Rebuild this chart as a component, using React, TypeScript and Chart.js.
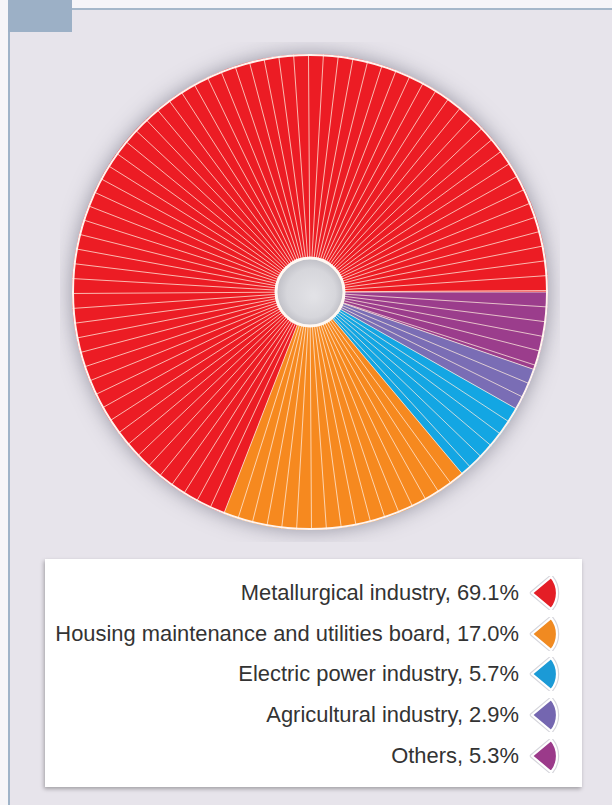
import React, { useEffect, useRef } from "react";
import { Chart, registerables } from "chart.js";

Chart.register(...registerables);

// Legend order (top to bottom)
const categories = [
  "Metallurgical industry",
  "Housing maintenance and utilities board",
  "Electric power industry",
  "Agricultural industry",
  "Others",
];
const shares = [69.1, 17.0, 5.7, 2.9, 5.3];
const sliceColors = ["#ec1c24", "#f6891f", "#13a6e3", "#7a6db5", "#9b3d8c"];
const markerColors = ["#e41e26", "#f08a21", "#1b9ad6", "#7466b0", "#9b3a8a"];

// one thin segment per percentage point
const SEGMENT_SHARE = 1;

const decorPlugin = {
  id: "decor",
  beforeDatasetsDraw(chart: any) {
    const meta = chart.getDatasetMeta(0);
    if (!meta.data.length) return;
    const { x, y, outerRadius } = meta.data[0].getProps(["x", "y", "outerRadius"], true);
    const ctx = chart.ctx;
    ctx.save();
    ctx.shadowColor = "rgba(70,70,90,0.5)";
    ctx.shadowBlur = 20;
    ctx.fillStyle = "#e6e3ea";
    ctx.beginPath();
    ctx.arc(x, y, outerRadius, 0, Math.PI * 2);
    ctx.fill();
    ctx.restore();
  },
  afterDatasetsDraw(chart: any) {
    const meta = chart.getDatasetMeta(0);
    if (!meta.data.length) return;
    const ctx = chart.ctx;
    const total = shares.reduce((s, v) => s + v, 0);
    const step = (Math.PI * 2 * SEGMENT_SHARE) / total;
    let cx = 0, cy = 0, rIn = 0, rOut = 0;
    ctx.save();
    ctx.lineWidth = 1;
    meta.data.forEach((arc: any) => {
      const { x, y, startAngle, endAngle, innerRadius, outerRadius } = arc.getProps(
        ["x", "y", "startAngle", "endAngle", "innerRadius", "outerRadius"],
        true
      );
      cx = x; cy = y; rIn = innerRadius; rOut = outerRadius;
      ctx.strokeStyle = "rgba(255,236,222,0.75)";
      for (let t = startAngle; t < endAngle - 1e-6; t += step) {
        ctx.beginPath();
        ctx.moveTo(x + Math.cos(t) * innerRadius, y + Math.sin(t) * innerRadius);
        ctx.lineTo(x + Math.cos(t) * outerRadius, y + Math.sin(t) * outerRadius);
        ctx.stroke();
      }
    });
    // outer rim
    ctx.strokeStyle = "#fff4ee";
    ctx.lineWidth = 2;
    ctx.beginPath();
    ctx.arc(cx, cy, rOut - 1, 0, Math.PI * 2);
    ctx.stroke();
    // hole
    const g = ctx.createRadialGradient(cx + 4, cy + 4, 2, cx, cy, rIn);
    g.addColorStop(0, "#e2e2e6");
    g.addColorStop(0.7, "#d6d6db");
    g.addColorStop(1, "#bfbfc6");
    ctx.fillStyle = g;
    ctx.beginPath();
    ctx.arc(cx, cy, rIn, 0, Math.PI * 2);
    ctx.fill();
    ctx.strokeStyle = "#fff8f2";
    ctx.lineWidth = 3;
    ctx.beginPath();
    ctx.arc(cx, cy, rIn, 0, Math.PI * 2);
    ctx.stroke();
    ctx.restore();
  },
};

function Marker({ color }: { color: string }) {
  // wedge pointing left
  const r = 25;
  const a = (40 * Math.PI) / 180;
  const x1 = 3 + r * Math.cos(a);
  const y1 = 17 - r * Math.sin(a);
  const y2 = 17 + r * Math.sin(a);
  const d = `M3,17 L${x1.toFixed(2)},${y1.toFixed(2)} A${r},${r} 0 0 1 ${x1.toFixed(2)},${y2.toFixed(2)} Z`;
  return (
    <svg width="31" height="34" viewBox="0 0 31 34" style={{ display: "block" }}>
      <path d={d} fill="none" stroke="#d6d6dc" strokeWidth="4.5" strokeLinejoin="round" />
      <path d={d} fill={color} stroke="#ffffff" strokeWidth="2.2" strokeLinejoin="round" />
    </svg>
  );
}

export default function App() {
  const canvasRef = useRef<HTMLCanvasElement | null>(null);

  useEffect(() => {
    document.body.style.margin = "0";
    const ordered = categories.map((_, i) => i).reverse();
    const chart = new Chart(canvasRef.current as HTMLCanvasElement, {
      type: "doughnut",
      data: {
        labels: ordered.map((i) => categories[i]),
        datasets: [
          {
            data: ordered.map((i) => shares[i]),
            backgroundColor: ordered.map((i) => sliceColors[i]),
            borderWidth: 0,
          },
        ],
      },
      options: {
        animation: false,
        responsive: false,
        rotation: 90,
        cutout: 34,
        layout: { padding: 12 },
        plugins: { legend: { display: false }, tooltip: { enabled: false } },
      },
      plugins: [decorPlugin],
    });
    return () => chart.destroy();
  }, []);

  return (
    <div style={{ position: "absolute", left: 0, top: 0, width: 612, height: 805, background: "#f6f5f8", overflow: "hidden" }}>
      <div
        style={{
          position: "absolute",
          left: 8,
          top: 8,
          width: 604,
          height: 797,
          background: "#e7e4eb",
          borderLeft: "2px solid #9fb3c8",
          borderTop: "2px solid #a6b8ca",
          boxSizing: "border-box",
        }}
      />
      <div style={{ position: "absolute", left: 8, top: 0, width: 64, height: 32, background: "#9cb0c6" }} />
      <canvas ref={canvasRef} width={500} height={500} style={{ position: "absolute", left: 60, top: 42, width: 500, height: 500 }} />
      <div
        style={{
          position: "absolute",
          left: 45,
          top: 559,
          width: 537,
          height: 228,
          background: "#ffffff",
          boxShadow: "-1px 2px 4px rgba(0,0,0,0.3)",
        }}
      >
        {categories.map((c, i) => (
          <div
            key={c}
            style={{
              position: "absolute",
              right: 22,
              top: 17 + i * 40.7,
              height: 34,
              display: "flex",
              alignItems: "center",
              gap: 10,
              fontFamily: "'Liberation Sans', Arial, sans-serif",
              fontSize: 21.9,
              color: "#333333",
              whiteSpace: "nowrap",
            }}
          >
            <span>{`${c}, ${shares[i].toFixed(1)}%`}</span>
            <Marker color={markerColors[i]} />
          </div>
        ))}
      </div>
    </div>
  );
}
